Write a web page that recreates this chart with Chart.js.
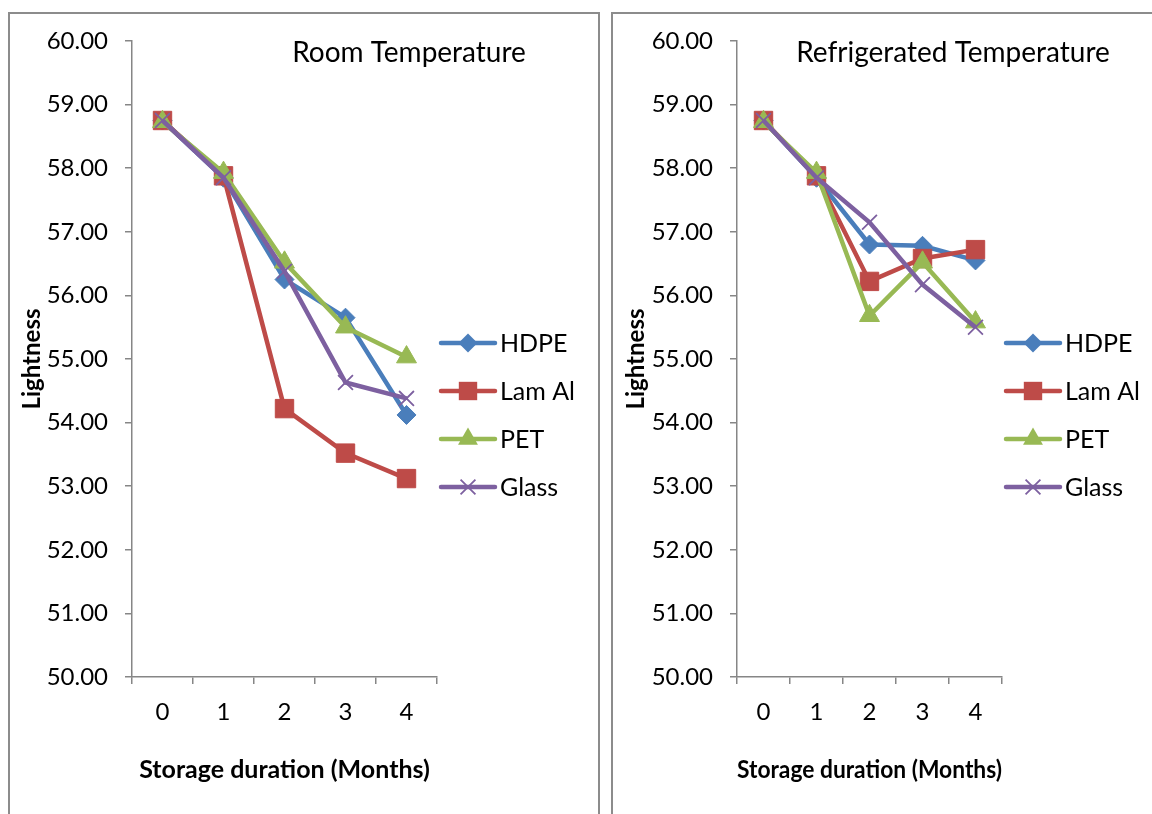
<!DOCTYPE html>
<html>
<head>
<meta charset="utf-8">
<script src="https://cdn.jsdelivr.net/npm/chart.js@4/dist/chart.umd.min.js"></script>
<style>
  html, body { margin: 0; padding: 0; background: #fff; }
  #page { position: relative; width: 1152px; height: 814px; overflow: hidden; background: #fff; }
  .frame { position: absolute; box-sizing: border-box; border: 2px solid #8c8c8c; border-bottom: none; }
  canvas { position: absolute; }
</style>
</head>
<body>
<div id="page">
  <div class="frame" style="left:8px;top:12px;width:592px;height:830px"></div>
  <div class="frame" style="left:611px;top:12px;width:600px;height:830px"></div>
  <canvas id="room" style="left:0;top:0;width:600px;height:814px" width="600" height="814"></canvas>
  <canvas id="fridge" style="left:604px;top:0;width:548px;height:814px" width="548" height="814"></canvas>
</div>
<script>
// Storage months on the x axis
const months = ['0', '1', '2', '3', '4'];
const seriesNames = ['HDPE', 'Lam Al', 'PET', 'Glass'];

// Lightness at room temperature
const roomHDPE  = [58.75, 57.85, 56.25, 55.65, 54.12];
const roomLamAl = [58.75, 57.88, 54.22, 53.52, 53.12];
const roomPET   = [58.73, 57.93, 56.52, 55.50, 55.03];
const roomGlass = [58.75, 57.85, 56.38, 54.63, 54.38];

// Lightness at refrigerated temperature
const fridgeHDPE  = [58.75, 57.85, 56.80, 56.78, 56.55];
const fridgeLamAl = [58.75, 57.88, 56.22, 56.58, 56.72];
const fridgePET   = [58.73, 57.93, 55.68, 56.52, 55.58];
const fridgeGlass = [58.75, 57.85, 57.15, 56.17, 55.50];

// Value axis range
const yMin = 50, yMax = 60, yStep = 1;

const FONT = 'Lato, "Open Sans", sans-serif';
const AXIS_GREY = '#868686';
const styles = [
  { color: '#4A7EBB', point: 'rectRot',  radius: 9.5, bw: 1 },
  { color: '#BE4B48', point: 'rect',     radius: 13,  bw: 1 },
  { color: '#98B954', point: 'triangle', radius: 11.5, bw: 1 },
  { color: '#7D60A0', point: 'crossRot', radius: 10.5, bw: 1.8 }
];

function drawMarker(ctx, kind, x, y, r, color, bw) {
  ctx.save();
  ctx.fillStyle = color;
  ctx.strokeStyle = color;
  ctx.lineWidth = bw;
  ctx.beginPath();
  if (kind === 'rectRot') {
    ctx.moveTo(x, y - r); ctx.lineTo(x + r, y); ctx.lineTo(x, y + r); ctx.lineTo(x - r, y); ctx.closePath();
    ctx.fill();
  } else if (kind === 'rect') {
    const s = r * Math.SQRT1_2;
    ctx.rect(x - s, y - s, 2 * s, 2 * s);
    ctx.fill();
  } else if (kind === 'triangle') {
    const h = Math.sqrt(3) / 2 * r;
    ctx.moveTo(x, y - r); ctx.lineTo(x + h, y + r / 2); ctx.lineTo(x - h, y + r / 2); ctx.closePath();
    ctx.fill();
  } else if (kind === 'crossRot') {
    const d = r * Math.SQRT1_2;
    ctx.moveTo(x - d, y - d); ctx.lineTo(x + d, y + d);
    ctx.moveTo(x - d, y + d); ctx.lineTo(x + d, y - d);
    ctx.stroke();
  }
  ctx.restore();
}

// Panel heading and line-with-marker legend drawn on the canvas
const panelDecor = {
  id: 'panelDecor',
  afterDraw(chart, args, opts) {
    const ctx = chart.ctx;
    ctx.save();
    ctx.fillStyle = '#000';
    ctx.font = '28px ' + FONT;
    ctx.textAlign = 'center';
    ctx.textBaseline = 'middle';
    ctx.fillText(opts.title, opts.titleX, opts.titleY);
    ctx.textAlign = 'left';
    chart.data.datasets.forEach((ds, i) => {
      const st = styles[i];
      const y = opts.legendY + i * opts.legendGap;
      const x0 = opts.legendX;
      ctx.save();
      ctx.strokeStyle = st.color;
      ctx.lineWidth = 4.5;
      ctx.lineCap = 'round';
      ctx.beginPath();
      ctx.moveTo(x0, y); ctx.lineTo(x0 + 54, y);
      ctx.stroke();
      ctx.restore();
      drawMarker(ctx, st.point, x0 + 27, y, st.radius, st.color, st.bw);
      ctx.fillStyle = '#000';
      ctx.font = '25px ' + FONT;
      ctx.fillText(ds.label, x0 + 59, y + 1);
    });
    ctx.restore();
  }
};

function makeChart(id, seriesData, cfg) {
  const datasets = seriesData.map((vals, i) => ({
    label: seriesNames[i],
    data: vals,
    borderColor: styles[i].color,
    backgroundColor: styles[i].color,
    borderWidth: 4.5,
    pointStyle: styles[i].point,
    pointRadius: styles[i].radius,
    pointBorderWidth: styles[i].bw,
    pointBorderColor: styles[i].color,
    pointBackgroundColor: styles[i].color,
    tension: 0,
    order: 4 - i
  }));
  return new Chart(document.getElementById(id), {
    type: 'line',
    data: { labels: months, datasets },
    plugins: [panelDecor],
    options: {
      responsive: false,
      animation: false,
      devicePixelRatio: 1,
      layout: { padding: { left: 0, top: 41, right: cfg.padRight, bottom: 0 } },
      plugins: {
        legend: { display: false },
        tooltip: { enabled: false },
        panelDecor: cfg.decor
      },
      scales: {
        x: {
          type: 'category',
          offset: true,
          grid: { offset: true, drawOnChartArea: false, drawTicks: true, tickLength: 7, color: AXIS_GREY, lineWidth: 1.5 },
          border: { display: true, color: AXIS_GREY, width: 1.5 },
          ticks: { color: '#000', font: { family: FONT, size: 24 }, padding: 14, maxRotation: 0 },
          title: { display: true, text: 'Storage duration (Months)', color: '#000',
                   font: { family: FONT, size: 25, weight: 'bold' }, padding: { top: 0, bottom: 29 } },
          afterFit(scale) { scale.height = 137; }
        },
        y: {
          min: yMin, max: yMax,
          grid: { drawOnChartArea: false, drawTicks: true, tickLength: 7, color: AXIS_GREY, lineWidth: 1.5 },
          border: { display: true, color: AXIS_GREY, width: 1.5 },
          ticks: { stepSize: yStep, color: '#000', font: { family: FONT, size: 24 }, padding: 17,
                   callback: v => Number(v).toFixed(2) },
          title: { display: true, text: 'Lightness', color: '#000',
                   font: { family: FONT, size: 24, weight: 'bold' }, padding: { top: 18, bottom: 0 } },
          afterFit(scale) { scale.width = cfg.yWidth; }
        }
      }
    }
  });
}

makeChart('room', [roomHDPE, roomLamAl, roomPET, roomGlass], {
  padRight: 163, yWidth: 132,
  decor: { title: 'Room Temperature', titleX: 409, titleY: 53, legendX: 441, legendY: 343, legendGap: 48 }
});
makeChart('fridge', [fridgeHDPE, fridgeLamAl, fridgePET, fridgeGlass], {
  padRight: 150, yWidth: 133,
  decor: { title: 'Refrigerated Temperature', titleX: 349, titleY: 53, legendX: 402, legendY: 343, legendGap: 48 }
});
</script>
</body>
</html>
